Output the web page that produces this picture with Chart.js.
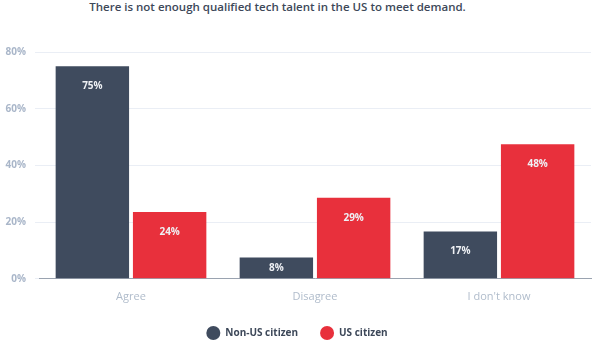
<!DOCTYPE html>
<html>
<head>
<meta charset="utf-8">
<script src="https://cdn.jsdelivr.net/npm/chart.js@4/dist/chart.umd.min.js"></script>
<style>
  html, body { margin: 0; padding: 0; background: #ffffff; }
  #wrap { position: relative; width: 600px; height: 341px; overflow: hidden; }
  #title { position: absolute; left: 0; top: -1px; width: 555px; text-align: center;
           font-family: "Open Sans", sans-serif; font-weight: 600; font-size: 11.5px;
           color: #3d4859; white-space: nowrap; }
  canvas { position: absolute; left: 0; top: 0; }
</style>
</head>
<body>
<div id="wrap">
  <div id="title">There is not enough qualified tech talent in the US to meet demand.</div>
  <canvas id="c" width="600" height="341"></canvas>
</div>
<script>
const categories = ["Agree", "Disagree", "I don't know"];
const seriesNames = ["Non-US citizen", "US citizen"];
const nonUsValues = [75, 7.5, 16.7];
const usValues = [23.6, 28.6, 47.5];
const yTicks = [0, 20, 40, 60, 80];

const DARK = '#3f4b5e';
const RED = '#e8303c';

const valueLabels = {
  id: 'valueLabels',
  afterDatasetsDraw(chart) {
    const ctx = chart.ctx;
    ctx.save();
    ctx.font = 'bold 10px "Open Sans", sans-serif';
    ctx.textAlign = 'center';
    ctx.textBaseline = 'middle';
    chart.data.datasets.forEach((ds, i) => {
      const meta = chart.getDatasetMeta(i);
      meta.data.forEach((bar, j) => {
        const v = ds.data[j];
        const top = bar.y, base = bar.base;
        const y = Math.min(top + 20, (top + base) / 2);
        ctx.fillStyle = '#eef0f4';
        ctx.fillText(Math.round(v) + '%', bar.x, y);
      });
    });
    ctx.restore();
  }
};

new Chart(document.getElementById('c'), {
  type: 'bar',
  data: {
    labels: categories,
    datasets: [
      { label: seriesNames[0], data: nonUsValues, backgroundColor: DARK, borderWidth: 0 },
      { label: seriesNames[1], data: usValues, backgroundColor: RED, borderWidth: 0 }
    ]
  },
  options: {
    responsive: false,
    animation: false,
    layout: { padding: { left: 3, right: 9, top: 52, bottom: -7 } },
    categoryPercentage: 0.84,
    barPercentage: 0.95,
    scales: {
      x: {
        grid: { display: false },
        border: { color: '#9aa3b0', width: 1 },
        ticks: { color: '#b0bccb', font: { family: '"Open Sans", sans-serif', size: 11 }, padding: 3 }
      },
      y: {
        min: 0, max: 80,
        afterBuildTicks(scale) { scale.ticks = yTicks.map(v => ({ value: v })); },
        afterFit(scale) { scale.width = 36; },
        grid: { color: '#eaeef5', tickLength: 4, lineWidth: 1 },
        border: { display: false },
        ticks: {
          color: '#a9b6c9', padding: 9,
          font: { family: '"Open Sans", sans-serif', size: 10, weight: 'bold' },
          callback: v => v + '%'
        }
      }
    },
    plugins: {
      title: { display: false },
      tooltip: { enabled: false },
      legend: {
        position: 'bottom',
        labels: {
          usePointStyle: true, pointStyle: 'circle', pointStyleWidth: 14,
          color: '#3d4859', padding: 22,
          font: { family: '"Open Sans", sans-serif', size: 10, weight: 'bold' }
        }
      }
    }
  },
  plugins: [valueLabels]
});
</script>
</body>
</html>
